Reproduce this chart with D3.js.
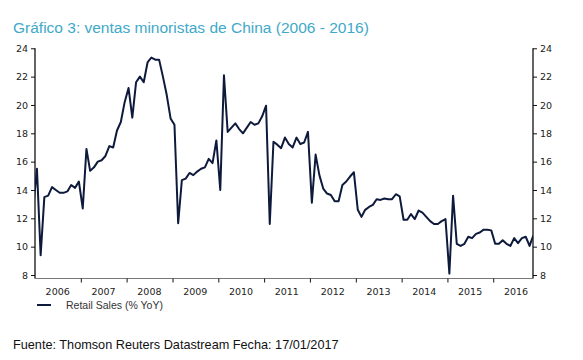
<!DOCTYPE html>
<html>
<head>
<meta charset="utf-8">
<script src="https://cdn.jsdelivr.net/npm/d3@7"></script>
<style>
  body { margin: 0; background: #fff; }
  svg { display: block; }
  .title { font-family: "Liberation Sans", Arial, sans-serif; font-size: 15.5px; fill: #41a9c9; }
  .tick text { font-family: "DejaVu Sans", Verdana, sans-serif; font-size: 9.5px; fill: #222; }
  .legend { font-family: "Liberation Sans", Arial, sans-serif; font-size: 10.5px; fill: #333; }
  .source { font-family: "Liberation Sans", Arial, sans-serif; font-size: 12.7px; fill: #111; }
</style>
</head>
<body>
<div id="chart"></div>
<script>
// monthly retail sales, % YoY, first value = Dec 2005 (clipped at left edge)
var firstMonth = "2005-12";
var retailSales = [
  12.6,
  15.5, 9.4, 13.5, 13.6, 14.2, 14.0, 13.8, 13.8, 13.9, 14.35, 14.15, 14.6,   // 2006
  12.7, 16.9, 15.35, 15.6, 16.0, 16.1, 16.4, 17.1, 17.0, 18.2, 18.8, 20.2,   // 2007
  21.2, 19.1, 21.6, 22.0, 21.6, 23.0, 23.35, 23.2, 23.2, 22.0, 20.7, 19.05,  // 2008
  18.6, 11.65, 14.7, 14.8, 15.2, 15.05, 15.3, 15.5, 15.6, 16.2, 15.9, 17.5,  // 2009
  14.0, 22.1, 18.1, 18.4, 18.7, 18.3, 18.0, 18.4, 18.8, 18.6, 18.7, 19.2,    // 2010
  19.95, 11.6, 17.4, 17.2, 16.95, 17.7, 17.25, 17.0, 17.7, 17.25, 17.35, 18.1, // 2011
  13.1, 16.5, 15.05, 14.1, 13.75, 13.65, 13.2, 13.2, 14.35, 14.6, 14.95, 15.25, // 2012
  12.6, 12.1, 12.6, 12.8, 12.95, 13.35, 13.3, 13.4, 13.35, 13.35, 13.7, 13.55, // 2013
  11.9, 11.9, 12.3, 11.95, 12.55, 12.4, 12.1, 11.8, 11.6, 11.6, 11.8, 11.95,   // 2014
  8.1, 13.6, 10.2, 10.05, 10.2, 10.7, 10.6, 10.9, 11.0, 11.2, 11.2, 11.15,     // 2015
  10.2, 10.2, 10.45, 10.2, 10.05, 10.6, 10.25, 10.6, 10.7, 10.05, 10.8         // 2016
];
var yearLabels = ["2006","2007","2008","2009","2010","2011","2012","2013","2014","2015","2016"];
var yTicks = [8, 10, 12, 14, 16, 18, 20, 22, 24];
var seriesName = "Retail Sales (% YoY)";
var titleText = "Gr\u00e1fico 3: ventas minoristas de China (2006 - 2016)";
var sourceText = "Fuente: Thomson Reuters Datastream Fecha: 17/01/2017";

(function () {
var width = 583, height = 360;
var plotLeft = 35, plotRight = 533, plotTop = 48.3, plotBottom = 275, axisY = 278.5;

var parseMonth = d3.timeParse("%Y-%m");
var start = parseMonth(firstMonth);
// points sit in the middle of each month
var data = retailSales.map(function (v, i) {
    var m = d3.timeMonth.offset(start, i);
    return { date: new Date(m.getTime() + (d3.timeMonth.offset(m, 1) - m) / 2), value: v };
});

var x = d3.scaleTime()
    .domain([new Date(2006, 0, 1), new Date(2016, 10, 13)])
    .range([plotLeft, plotRight]);
var y = d3.scaleLinear().domain([8, 24]).range([plotBottom, plotTop]);

var svg = d3.select("#chart").append("svg")
    .attr("width", width)
    .attr("height", height);

svg.append("text")
    .attr("class", "title")
    .attr("x", 13).attr("y", 33)
    .text(titleText);

svg.append("clipPath").attr("id", "plot")
  .append("rect")
    .attr("x", plotLeft).attr("y", 0)
    .attr("width", plotRight - plotLeft).attr("height", axisY);

// y axes
var yLeft = d3.axisLeft(y).tickValues(yTicks).tickSize(4).tickPadding(3);
var yRight = d3.axisRight(y).tickValues(yTicks).tickSize(4).tickPadding(3);

function styleY(g) {
    g.select(".domain").attr("d", "M0," + plotTop + "V" + axisY).attr("stroke", "#111").attr("stroke-width", 1.3);
    g.selectAll(".tick line").attr("stroke", "#111");
    g.selectAll(".tick text").attr("fill", "#222");
}
svg.append("g").attr("transform", "translate(" + plotLeft + ",0)").call(yLeft).call(styleY);
svg.append("g").attr("transform", "translate(" + plotRight + ",0)").call(yRight).call(styleY);

// x axis: ticks at year starts, labels mid-year
var yearStarts = yearLabels.slice(1).map(function (d) { return new Date(+d, 0, 1); });
var xAxis = d3.axisBottom(x).tickValues(yearStarts).tickSize(4).tickFormat("");
svg.append("g").attr("transform", "translate(0," + axisY + ")").call(xAxis)
    .call(function (g) { g.select(".domain").attr("d", "M" + plotLeft + ",0H" + plotRight).attr("stroke", "#777").attr("stroke-width", 1.2); })
    .call(function (g) { g.selectAll(".tick line").attr("stroke", "#111"); });

svg.append("g").selectAll("text")
    .data(yearLabels)
  .enter().append("text")
    .attr("x", function (d) { return x(new Date(+d, 6, 1)); })
    .attr("y", 295)
    .attr("text-anchor", "middle")
    .style("font-family", "'DejaVu Sans', Verdana, sans-serif")
    .style("font-size", "9.5px")
    .style("fill", "#222")
    .text(function (d) { return d; });

var line = d3.line()
    .x(function (d) { return x(d.date); })
    .y(function (d) { return y(d.value); });

svg.append("path")
    .datum(data)
    .attr("clip-path", "url(#plot)")
    .attr("fill", "none")
    .attr("stroke", "#0e1a3c")
    .attr("stroke-width", 2)
    .attr("stroke-linejoin", "round")
    .attr("d", line);

// legend
svg.append("line")
    .attr("x1", 37).attr("x2", 51)
    .attr("y1", 305).attr("y2", 305)
    .attr("stroke", "#0e1a3c").attr("stroke-width", 2);
svg.append("text")
    .attr("class", "legend")
    .attr("x", 66).attr("y", 309)
    .text(seriesName);

svg.append("text")
    .attr("class", "source")
    .attr("x", 13).attr("y", 349)
    .text(sourceText);
})();
</script>
</body>
</html>
